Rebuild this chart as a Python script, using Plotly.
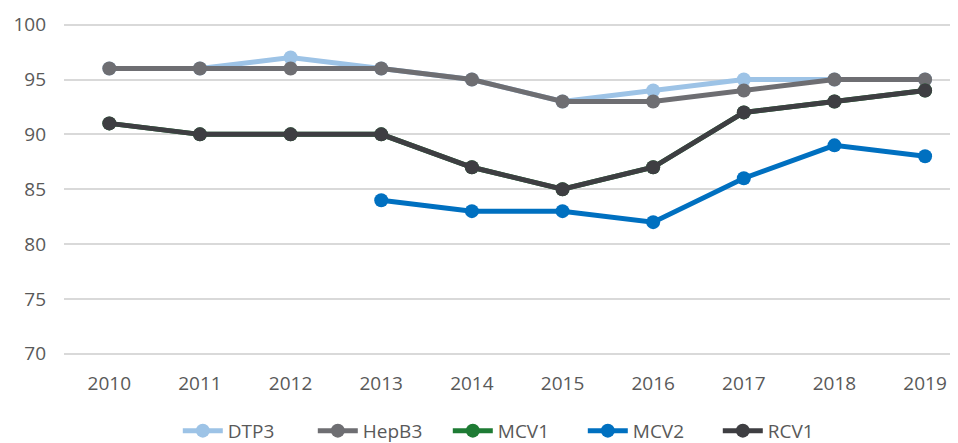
import plotly.graph_objects as go

years = ["2010", "2011", "2012", "2013", "2014", "2015", "2016", "2017", "2018", "2019"]
dtp3 = [96, 96, 97, 96, 95, 93, 94, 95, 95, 95]
hepb3 = [96, 96, 96, 96, 95, 93, 93, 94, 95, 95]
mcv1 = [91, 90, 90, 90, 87, 85, 87, 92, 93, 94]
mcv2 = [None, None, None, 84, 83, 83, 82, 86, 89, 88]
rcv1 = [91, 90, 90, 90, 87, 85, 87, 92, 93, 94]
y_ticks = [70, 75, 80, 85, 90, 95, 100]

series = [
    ("DTP3", dtp3, "#9DC3E6"),
    ("HepB3", hepb3, "#6E6E72"),
    ("MCV1", mcv1, "#1E7B34"),
    ("MCV2", mcv2, "#0070C0"),
    ("RCV1", rcv1, "#3E3E42"),
]

fig = go.Figure()
for name, vals, col in series:
    fig.add_trace(go.Scatter(
        x=years, y=vals, name=name, mode="lines+markers",
        line=dict(color=col, width=5),
        marker=dict(color=col, size=14),
        connectgaps=False,
    ))

font = "Open Sans, Noto Sans, Liberation Sans, Arial, sans-serif"
fig.update_layout(
    width=950, height=435,
    margin=dict(l=56, r=3, t=11, b=87),
    paper_bgcolor="white", plot_bgcolor="white",
    font=dict(family=font, size=19, color="#595959"),
    showlegend=True,
    legend=dict(orientation="h", xref="container", yref="container",
                x=0.534, xanchor="center", y=0.028, yanchor="middle",
                font=dict(size=19, color="#595959"), itemwidth=40,
                entrywidth=80, tracegroupgap=0),
    xaxis=dict(type="category", range=[-0.5, 9.33], showgrid=False, zeroline=False,
               showline=False, ticks="", ticklabelstandoff=14),
    yaxis=dict(range=[69.8, 100.15], tickvals=y_ticks, showgrid=True, gridcolor="#D9D9D9",
               gridwidth=1.5, zeroline=False, showline=False, ticks="", ticklabelstandoff=17,
               ticklabeloverflow="allow"),
)

fig.write_html("out.html")
